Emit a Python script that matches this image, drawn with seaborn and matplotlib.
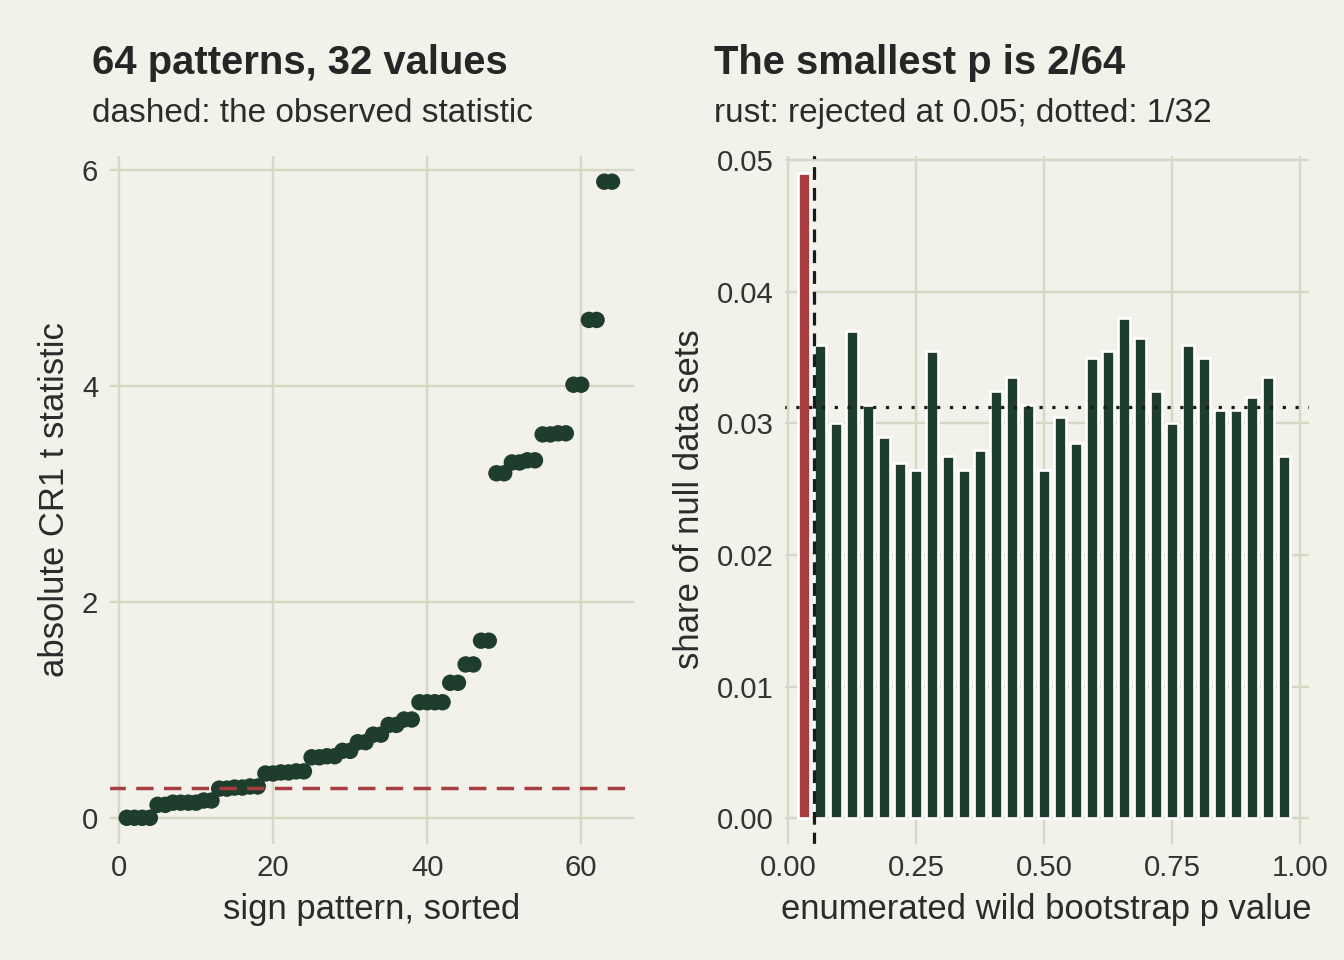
import numpy as np
import pandas as pd
import seaborn as sns
import matplotlib.pyplot as plt

BG = '#F2F1EA'
GRID = '#D7D7C5'
GREEN = '#1F3D2C'
RUST = '#A63D40'

# 32 distinct |t| values, each shared by two sign patterns
t_values = [0.0, 0.0, 0.12, 0.14, 0.14, 0.16, 0.27, 0.28, 0.29, 0.41, 0.42, 0.43,
            0.56, 0.57, 0.62, 0.70, 0.77, 0.86, 0.91, 1.07, 1.07, 1.25, 1.42, 1.64,
            3.19, 3.29, 3.31, 3.55, 3.56, 4.01, 4.61, 5.89]
observed_t = 0.28

# p values k/64 for k = 2, 4, ..., 62
p_values = [k / 64 for k in range(2, 64, 2)]
shares = [0.049, 0.0360, 0.0300, 0.0370, 0.0314, 0.0290, 0.0270, 0.0265, 0.0355, 0.0275,
          0.0265, 0.0280, 0.0325, 0.0335, 0.0314, 0.0265, 0.0305, 0.0285, 0.0350, 0.0355,
          0.0380, 0.0365, 0.0325, 0.0300, 0.0360, 0.0350, 0.0310, 0.0310, 0.0320, 0.0335,
          0.0275]

sns.set_theme(style='whitegrid', rc={
    'figure.facecolor': BG, 'axes.facecolor': BG, 'grid.color': GRID,
    'axes.edgecolor': BG, 'grid.linewidth': 0.9,
    'axes.labelcolor': '#2b2b2b', 'xtick.color': '#333333', 'ytick.color': '#333333',
})
plt.rcParams['font.family'] = ['Liberation Sans', 'DejaVu Sans']

fig, (ax1, ax2) = plt.subplots(1, 2, figsize=(7, 5), dpi=192)

left = pd.DataFrame({'pattern': np.arange(1, 65), 't': np.repeat(t_values, 2)})
sns.scatterplot(data=left, x='pattern', y='t', ax=ax1, color=GREEN, s=38, edgecolor='none')
ax1.axhline(observed_t, color=RUST, ls=(0, (5, 3)), lw=1.3)
ax1.set_xlim(-1.5, 67)
ax1.set_ylim(-0.25, 6.15)
ax1.set_xticks([0, 20, 40, 60])
ax1.set_yticks([0, 2, 4, 6])
ax1.set_xlabel('sign pattern, sorted', fontsize=13)
ax1.set_ylabel('absolute CR1 t statistic', fontsize=13)
ax1.set_title('64 patterns, 32 values', loc='left', fontsize=15, fontweight='bold', pad=30, x=-0.03)
ax1.text(-0.03, 1.045, 'dashed: the observed statistic', transform=ax1.transAxes, fontsize=12.5, color='#2b2b2b')

right = pd.DataFrame({'p': p_values, 'share': shares})
right['rejected'] = np.where(right['p'] <= 0.05, 'yes', 'no')
sns.barplot(data=right, x='p', y='share', hue='rejected', native_scale=True, width=0.75,
            palette={'yes': RUST, 'no': GREEN}, legend=False, ax=ax2, saturation=1)
ax2.axvline(0.05, color='#1a1a1a', ls=(0, (4, 2.5)), lw=1.2)
ax2.axhline(1 / 32, color='#1a1a1a', ls=(0, (1, 3)), lw=1.2)
ax2.set_xlim(-0.01, 1.02)
ax2.set_ylim(-0.002, 0.0505)
ax2.set_xticks([0, 0.25, 0.5, 0.75, 1.0])
ax2.set_xticklabels(['0.00', '0.25', '0.50', '0.75', '1.00'])
ax2.set_yticks([0, 0.01, 0.02, 0.03, 0.04, 0.05])
ax2.set_yticklabels(['0.00', '0.01', '0.02', '0.03', '0.04', '0.05'])
ax2.set_xlabel('enumerated wild bootstrap p value', fontsize=13)
ax2.set_ylabel('share of null data sets', fontsize=13)
ax2.set_title('The smallest p is 2/64', loc='left', fontsize=15, fontweight='bold', pad=30, x=-0.13)
ax2.text(-0.13, 1.045, 'rust: rejected at 0.05; dotted: 1/32', transform=ax2.transAxes, fontsize=12.5, color='#2b2b2b')

for ax in (ax1, ax2):
    ax.tick_params(labelsize=11, length=0)
    ax.set_axisbelow(True)

fig.subplots_adjust(left=0.08, right=0.975, bottom=0.12, top=0.84, wspace=0.28)
fig.savefig('out.png', dpi=192, facecolor=BG)
